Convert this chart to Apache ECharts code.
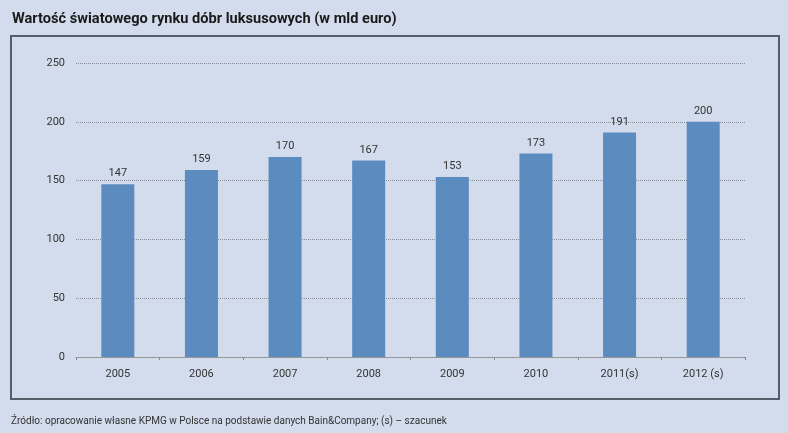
<!DOCTYPE html>
<html><head><meta charset="utf-8">
<script src="https://cdn.jsdelivr.net/npm/echarts@6/dist/echarts.min.js"></script>
<style>html,body{margin:0;padding:0;background:#d3dcec;}#c{width:788px;height:433px;}</style>
</head><body><div id="c"></div>
<script>
var categories = ['2005','2006','2007','2008','2009','2010','2011(s)','2012 (s)'];
var values = [147,159,170,167,153,173,191,200];
var yTicks = [0,50,100,150,200,250];
var chart = echarts.init(document.getElementById('c'));
chart.setOption({
  backgroundColor:'#d3dcec',
  animation:false,
  title:{text:'Wartość światowego rynku dóbr luksusowych (w mld euro)',left:7,top:7,
    textStyle:{fontFamily:'Roboto, Arial',fontSize:14.6,fontWeight:'bold',color:'#1a1a1a'}},
  graphic:[
    {type:'rect',shape:{x:11,y:36,width:768,height:363},style:{fill:'none',stroke:'#555d68',lineWidth:2},silent:true},
    {type:'text',left:11,top:416,style:{text:'Źródło: opracowanie własne KPMG w Polsce na podstawie danych Bain&Company; (s) – szacunek',fill:'#333',fontSize:10,fontFamily:'Roboto, Arial'}}
  ],
  grid:{left:76,right:43,top:63,bottom:76},
  xAxis:{type:'category',data:categories,
    axisLine:{show:true,lineStyle:{color:'#888',type:'dotted',width:1}},
    axisTick:{show:true,length:3,lineStyle:{color:'#888'}},
    axisLabel:{color:'#333',fontSize:11,margin:12,fontFamily:'Roboto, Arial'}},
  yAxis:{type:'value',min:yTicks[0],max:yTicks[yTicks.length-1],interval:50,
    axisLine:{show:false},axisTick:{show:false},
    axisLabel:{color:'#333',fontSize:11,margin:11,fontFamily:'Roboto, Arial'},
    splitLine:{show:true,lineStyle:{color:'#8a8f98',type:'dotted',width:1}}},
  series:[{type:'bar',data:values,barWidth:33,
    itemStyle:{color:'#5b8bbf'},
    label:{show:true,position:'top',distance:5,color:'#333',fontSize:11,fontFamily:'Roboto, Arial'}}]
});
</script></body></html>
